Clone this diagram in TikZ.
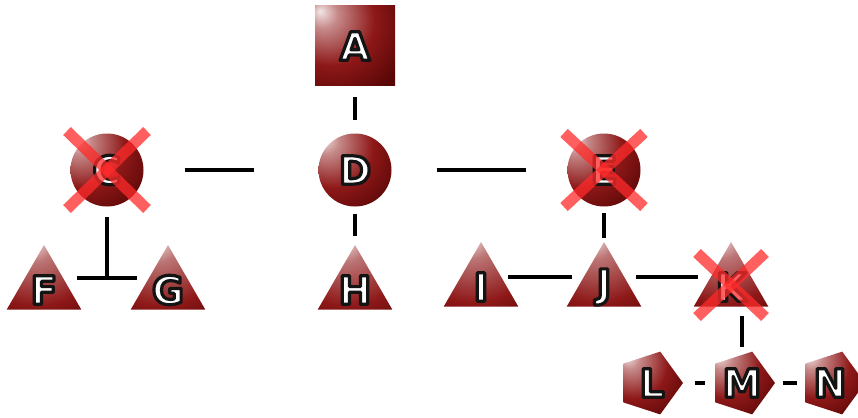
\documentclass[tikz,border=0pt]{standalone}
\usepackage{fontspec}
\newfontfamily\tagfont{DejaVu Sans}[BoldFont={DejaVu Sans Bold}]
\usetikzlibrary{shapes.geometric,calc}

\definecolor{dk}{HTML}{560505}
\definecolor{mid}{HTML}{8E1818}
\definecolor{hl}{HTML}{F4E6E6}
\definecolor{xred}{HTML}{FF2A2A}

% glossy dark-red fill, light spot towards the upper left
\pgfdeclareradialshading{gloss}{\pgfpoint{-22bp}{22bp}}{%
  color(0bp)=(hl); color(9bp)=(hl!55!mid); color(28bp)=(mid);
  color(48bp)=(dk); color(62bp)=(mid!80!dk); color(100bp)=(mid)}
\pgfdeclareradialshading{glosstri}{\pgfpoint{-8bp}{30bp}}{%
  color(0bp)=(hl); color(14bp)=(hl!45!mid); color(40bp)=(mid);
  color(60bp)=(dk); color(100bp)=(dk)}

% white glyphs, filled and then stroked in a dark colour
\newcommand\outlined[1]{%
  \special{pdf:literal 2 Tr 3.2 w 0.08 G 1 j}#1\special{pdf:literal 0 Tr}}

\tikzset{
  shapebase/.style={draw=none, inner sep=0pt, outer sep=0pt},
  squarebox/.style={shapebase, rectangle, minimum size=80pt, shading=gloss},
  ballbox/.style={shapebase, circle, minimum size=73pt, shading=gloss},
  tribox/.style={shapebase, regular polygon, regular polygon sides=3,
    minimum size=86pt, shading=glosstri},
  pentbox/.style={shapebase, regular polygon, regular polygon sides=5,
    shape border rotate=-90, minimum size=66pt, shading=gloss},
  link/.style={draw=black, line width=4.5pt},
  cross/.style={draw=xred, opacity=0.75, line width=11pt},
  tagtxt/.style={font=\tagfont\bfseries\fontsize{39}{39}\selectfont,
    text=white, inner sep=0pt, anchor=center},
}

\newcommand\tagletter[2]{\node[tagtxt] at (#1) {\outlined{#2}};}

% red strike-through cross
\newcommand\strike[3]{%
  \draw[cross] ($(#1)+(-#2,-#3)$) -- ($(#1)+(#2,#3)$);
  \draw[cross] ($(#1)+(#2,-#3)$) -- ($(#1)+(-#2,#3)$);}

\begin{document}
\begin{tikzpicture}[x=1pt,y=-1pt]
\useasboundingbox (0,0) rectangle (858,417);

% shapes
\node[squarebox] (A) at (355,46) {};
\node[ballbox]   (C) at (107,170) {};
\node[ballbox]   (D) at (355,170) {};
\node[ballbox]   (E) at (604,170) {};
\node[tribox] (F) at (44,288) {};
\node[tribox] (G) at (168,288) {};
\node[tribox] (H) at (355,288) {};
\node[tribox] (I) at (481,285) {};
\node[tribox] (J) at (604,285) {};
\node[tribox] (K) at (731,285) {};
\node[pentbox] (L) at (650,383) {};
\node[pentbox] (M) at (742,383) {};
\node[pentbox] (N) at (832,383) {};
\coordinate (fg) at (107,278);

% connectors
\draw[link, shorten <=11pt, shorten >=14pt] (A.south) -- (D.north);
\draw[link, shorten <=7pt,  shorten >=9pt]  (D.south) -- (H.north);
\draw[link, shorten <=41pt, shorten >=65pt] (C.east) -- (D.west);
\draw[link, shorten <=45pt, shorten >=42pt] (D.east) -- (E.west);
\draw[link, shorten <=10pt] (C.south) -- (fg);
\draw[link, shorten <=33pt, shorten >=31pt] (F.center |- fg) -- (G.center |- fg);
\draw[link, shorten <=6pt, shorten >=4pt] (E.south) -- (J.north);
\draw[link, shorten <=27pt, shorten >=32pt] ([yshift=8pt]I.center) -- ([yshift=8pt]J.center);
\draw[link, shorten <=32pt, shorten >=33pt] ([yshift=8pt]J.center) -- ([yshift=8pt]K.center);
\draw[link, shorten <=9pt, shorten >=8pt] (M.north |- K.south) -- (M.north);
\draw[link, shorten <=12pt, shorten >=10pt] (L.east) -- (M.west);
\draw[link, shorten <=8pt, shorten >=8pt] (M.east) -- (N.west);

% letters
\tagletter{A}{A}
\tagletter{C}{C}
\tagletter{D}{D}
\tagletter{E}{E}
\tagletter{$(F)+(0,2)$}{F}
\tagletter{$(G)+(0,2)$}{G}
\tagletter{$(H)+(0,2)$}{H}
\tagletter{$(I)+(0,2)$}{I}
\tagletter{$(J)+(0,2)$}{J}
\tagletter{$(K)+(0,2)$}{K}
\tagletter{$(L)+(2,0)$}{L}
\tagletter{M}{M}
\tagletter{$(N)+(-2,0)$}{N}

% crossed-out nodes
\strike{C}{40}{39}
\strike{E}{40}{37}
\strike{K}{34}{32}
\end{tikzpicture}
\end{document}
